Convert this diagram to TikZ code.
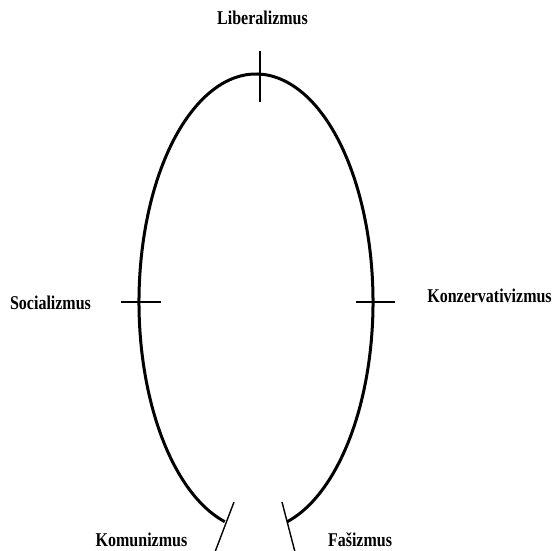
\documentclass[tikz,border=0pt]{standalone}
\usepackage{fontspec}
\usetikzlibrary{calc}
\newfontfamily\lblfont[FakeStretch=0.82]{Liberation Serif}
\begin{document}
\begin{tikzpicture}[x=1pt,y=1pt,
  lbl/.style={font=\lblfont\bfseries\fontsize{19.5}{20}\selectfont, inner sep=0pt, anchor=base},
  curve/.style={line width=3pt},
  tick/.style={line width=1.4pt}]
\useasboundingbox (0,0) rectangle (554,550);
% ellipse-like curve (center 256,248)
\coordinate (c) at (256,248);
\draw[curve] ($(c)+(254.5:117 and 228)$) arc[start angle=254.5, end angle=-74.5, x radius=117, y radius=228];
% ticks
\draw[tick] (260,499) -- (260,448);
\draw[tick] (121,248) -- (161,248);
\draw[tick] (356,248) -- (395,248);
\draw[tick] (234,48) -- (215,-2);
\draw[tick] (282,48) -- (295,-2);
% labels
\node[lbl] (lib) at (262.5,525) {Liberalizmus};
\node[lbl] (soc) at (50.5,241) {Socializmus};
\node[lbl] (kon) at (489.5,248) {Konzervativizmus};
\node[lbl] (kom) at (141.5,4) {Komunizmus};
\node[lbl] (fas) at (360,4) {Fašizmus};
\end{tikzpicture}
\end{document}
